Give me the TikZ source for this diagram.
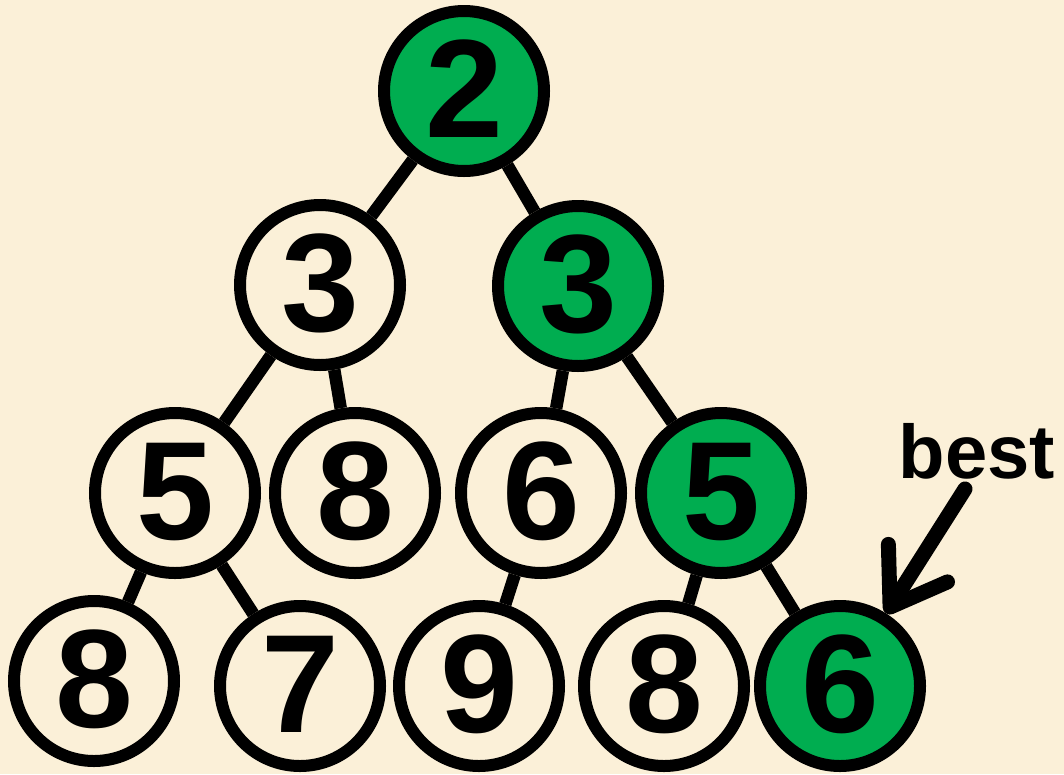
\documentclass[tikz,border=0pt]{standalone}
\usepackage{fontspec}
\setmainfont{Liberation Sans}
\usetikzlibrary{arrows.meta}
\definecolor{bg}{RGB}{251,240,216}
\definecolor{gr}{RGB}{0,173,80}
\begin{document}
\begin{tikzpicture}[x=1pt,y=-1pt,
  nd/.style={circle,draw=black,line width=12pt,minimum size=160pt,inner sep=0pt,
    text height=100pt,text depth=8pt,
    font=\fontsize{140}{140}\selectfont\bfseries},
  hl/.style={nd,fill=gr},
  edge/.style={line width=12.5pt,draw=black},
  ptr/.style={line width=15pt,line cap=round,-{Straight Barb[length=52pt,width=70pt,round]}}]
\fill[bg] (0,0) rectangle (1064,774);
\useasboundingbox (0,0) rectangle (1064,774);
% level 0
\node[hl] (r) at (464,91) {2};
% level 1
\node[nd] (a) at (320,285) {3};
\node[hl] (b) at (578,286) {3};
% level 2
\node[nd] (c) at (175,493) {5};
\node[nd] (d) at (355,493) {8};
\node[nd] (e) at (541,493) {6};
\node[hl] (f) at (721,493) {5};
% level 3
\node[nd] (g) at (94,681) {8};
\node[nd] (h) at (300,686) {7};
\node[nd] (i) at (479,686) {9};
\node[nd] (j) at (664,686) {8};
\node[hl] (k) at (840,686) {6};
% edges
\draw[edge] (r) -- (a);
\draw[edge] (r) -- (b);
\draw[edge] (a) -- (c);
\draw[edge] (a) -- (d);
\draw[edge] (b) -- (e);
\draw[edge] (b) -- (f);
\draw[edge] (c) -- (g);
\draw[edge] (c) -- (h);
\draw[edge] (e) -- (i);
\draw[edge] (f) -- (j);
\draw[edge] (f) -- (k);
% label
\node[anchor=base,inner sep=0pt,font=\fontsize{76}{76}\selectfont\bfseries] (best) at (977,478) {best};
\draw[ptr] ([xshift=-12pt,yshift=-10pt]best.south) -- (k);
\end{tikzpicture}
\end{document}
